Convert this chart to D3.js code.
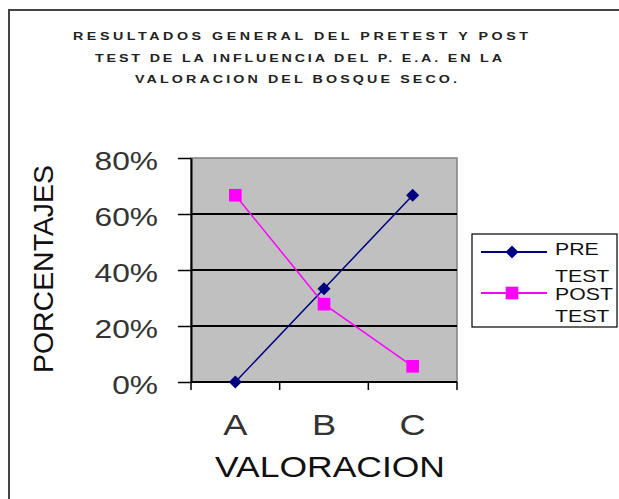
<!DOCTYPE html>
<html>
<head>
<meta charset="utf-8">
<script src="https://cdn.jsdelivr.net/npm/d3@7"></script>
<style>
  body { margin: 0; background: #fff; }
  svg { display: block; font-family: Arial, "Liberation Sans", sans-serif; }
</style>
</head>
<body>
<div id="chart"></div>
<script>
// chart values
const categories = ['A', 'B', 'C'];
const preTest = [0, 0.333, 0.667];
const postTest = [0.667, 0.278, 0.056];
const yTicks = [0, 0.2, 0.4, 0.6, 0.8];
const seriesNames = ['PRE TEST', 'POST TEST'];
const titleLines = [
  'RESULTADOS GENERAL DEL PRETEST Y POST',
  'TEST DE LA INFLUENCIA DEL P. E.A. EN LA',
  'VALORACION DEL BOSQUE SECO.'
];
const xTitle = 'VALORACION';
const yTitle = 'PORCENTAJES';

const W = 619, H = 499;
const plot = { left: 191, right: 457, top: 158, bottom: 382 };

const svg = d3.select('#chart').append('svg').attr('width', W).attr('height', H);

// Old spreadsheet export looks horizontally stretched; mimic it on text.
function stretch(sel, k) {
  sel.each(function () {
    const w = this.getComputedTextLength();
    d3.select(this).attr('textLength', w * k).attr('lengthAdjust', 'spacingAndGlyphs');
  });
}

// outer chart frame (runs off the right and bottom of the picture)
svg.append('path')
  .attr('d', `M9,${H + 5}V10H${W + 5}`)
  .attr('fill', 'none').attr('stroke', '#444').attr('stroke-width', 2);

// title: three lines, wide glyphs plus loose letter spacing
const titleLayout = [
  { x: 73, y: 40, w: 455 },
  { x: 95, y: 62.5, w: 407 },
  { x: 135, y: 83, w: 322 }
];
const tk = 1.3;
svg.append('g').attr('transform', `scale(${tk},1)`)
  .selectAll('text')
  .data(titleLines)
  .join('text')
  .attr('x', (d, i) => titleLayout[i].x / tk)
  .attr('y', (d, i) => titleLayout[i].y)
  .attr('font-size', 11).attr('font-weight', 'bold').attr('fill', '#222')
  .attr('textLength', (d, i) => titleLayout[i].w / tk)
  .attr('lengthAdjust', 'spacing')
  .text(d => d);

const x = d3.scaleBand().domain(categories).range([plot.left, plot.right]).padding(0);
const y = d3.scaleLinear().domain([0, 0.8]).range([plot.bottom, plot.top]);
const cx = c => x(c) + x.bandwidth() / 2;

// gray plot area
svg.append('rect')
  .attr('x', plot.left).attr('y', plot.top)
  .attr('width', plot.right - plot.left).attr('height', plot.bottom - plot.top)
  .attr('fill', '#c0c0c0').attr('stroke', '#808080').attr('stroke-width', 1.5);

// horizontal gridlines
svg.append('g').selectAll('line')
  .data(yTicks.filter(t => t > 0 && t < 0.8))
  .join('line')
  .attr('x1', plot.left).attr('x2', plot.right)
  .attr('y1', d => y(d)).attr('y2', d => y(d))
  .attr('stroke', '#000').attr('stroke-width', 2);

// y axis
const yAxis = svg.append('g')
  .attr('transform', `translate(${plot.left},0)`)
  .call(d3.axisLeft(y).tickValues(yTicks).tickFormat(d3.format('.0%')).tickSize(13).tickPadding(33).tickSizeOuter(0));
yAxis.select('.domain').attr('stroke', '#000').attr('stroke-width', 2);
yAxis.selectAll('.tick line').attr('stroke', '#000').attr('stroke-width', 1.5);
yAxis.selectAll('.tick text')
  .attr('font-family', 'Arial, "Liberation Sans", sans-serif')
  .attr('font-size', 26).attr('fill', '#333').attr('y', 3)
  .each(function () {
    // right-align the stretched label at 158px
    const w = this.getComputedTextLength() * 1.22;
    d3.select(this).attr('text-anchor', 'start').attr('x', -33 - w)
      .attr('textLength', w).attr('lengthAdjust', 'spacingAndGlyphs');
  });

// x axis: ticks at band edges, labels at band centers
const xAxis = svg.append('g').attr('transform', `translate(0,${plot.bottom})`);
xAxis.append('line')
  .attr('x1', plot.left).attr('x2', plot.right)
  .attr('stroke', '#000').attr('stroke-width', 2);
xAxis.selectAll('line.edge')
  .data(categories.map(c => x(c)).concat([plot.right]))
  .join('line').attr('class', 'edge')
  .attr('x1', d => d).attr('x2', d => d).attr('y1', 0).attr('y2', 8)
  .attr('stroke', '#000').attr('stroke-width', 1.5);
xAxis.selectAll('text')
  .data(categories)
  .join('text')
  .attr('y', 53).attr('font-size', 29).attr('fill', '#333')
  .text(d => d)
  .each(function (d) {
    const w = this.getComputedTextLength() * 1.25;
    d3.select(this).attr('x', cx(d) - w / 2)
      .attr('textLength', w).attr('lengthAdjust', 'spacingAndGlyphs');
  });

// axis titles
svg.append('text')
  .attr('x', 330).attr('y', 477)
  .attr('text-anchor', 'middle').attr('font-size', 30).attr('fill', '#111')
  .attr('textLength', 230).attr('lengthAdjust', 'spacingAndGlyphs')
  .text(xTitle);
svg.append('text')
  .attr('transform', 'translate(53,269) rotate(-90)')
  .attr('text-anchor', 'middle').attr('font-size', 27).attr('fill', '#111')
  .attr('textLength', 208).attr('lengthAdjust', 'spacingAndGlyphs')
  .text(yTitle);

// series
const series = [
  { name: seriesNames[0], values: preTest, color: '#000080', symbol: 'diamond' },
  { name: seriesNames[1], values: postTest, color: '#ff00ff', symbol: 'square' }
];
const line = d3.line().x(d => cx(d.c)).y(d => y(d.v));
const marker = s => s.symbol === 'diamond'
  ? d3.symbol(d3.symbolSquare, 85)()
  : d3.symbol(d3.symbolSquare, 160)();
const markerRot = s => s.symbol === 'diamond' ? ' rotate(45)' : '';

series.forEach(s => {
  const pts = categories.map((c, i) => ({ c, v: s.values[i] }));
  svg.append('path').datum(pts)
    .attr('d', line).attr('fill', 'none')
    .attr('stroke', s.color).attr('stroke-width', 1.5);
  svg.append('g').selectAll('path')
    .data(pts)
    .join('path')
    .attr('transform', d => `translate(${cx(d.c)},${y(d.v)})${markerRot(s)}`)
    .attr('d', marker(s)).attr('fill', s.color);
});

// legend
const legend = svg.append('g');
legend.append('rect')
  .attr('x', 472).attr('y', 234).attr('width', 145).attr('height', 93)
  .attr('fill', '#fff').attr('stroke', '#000').attr('stroke-width', 1.2);
const legendRows = [
  { y: 252, baselines: [255, 282] },
  { y: 293, baselines: [300, 322] }
];
series.forEach((s, i) => {
  const r = legendRows[i];
  legend.append('line')
    .attr('x1', 481).attr('x2', 547).attr('y1', r.y).attr('y2', r.y)
    .attr('stroke', s.color).attr('stroke-width', 2);
  legend.append('path')
    .attr('transform', `translate(512,${r.y})${markerRot(s)}`)
    .attr('d', marker(s)).attr('fill', s.color);
  s.name.split(' ').forEach((word, j) => {
    legend.append('text')
      .attr('x', 555).attr('y', r.baselines[j])
      .attr('font-size', 17).attr('fill', '#111')
      .text(word)
      .call(stretch, 1.25);
  });
});
</script>
</body>
</html>
